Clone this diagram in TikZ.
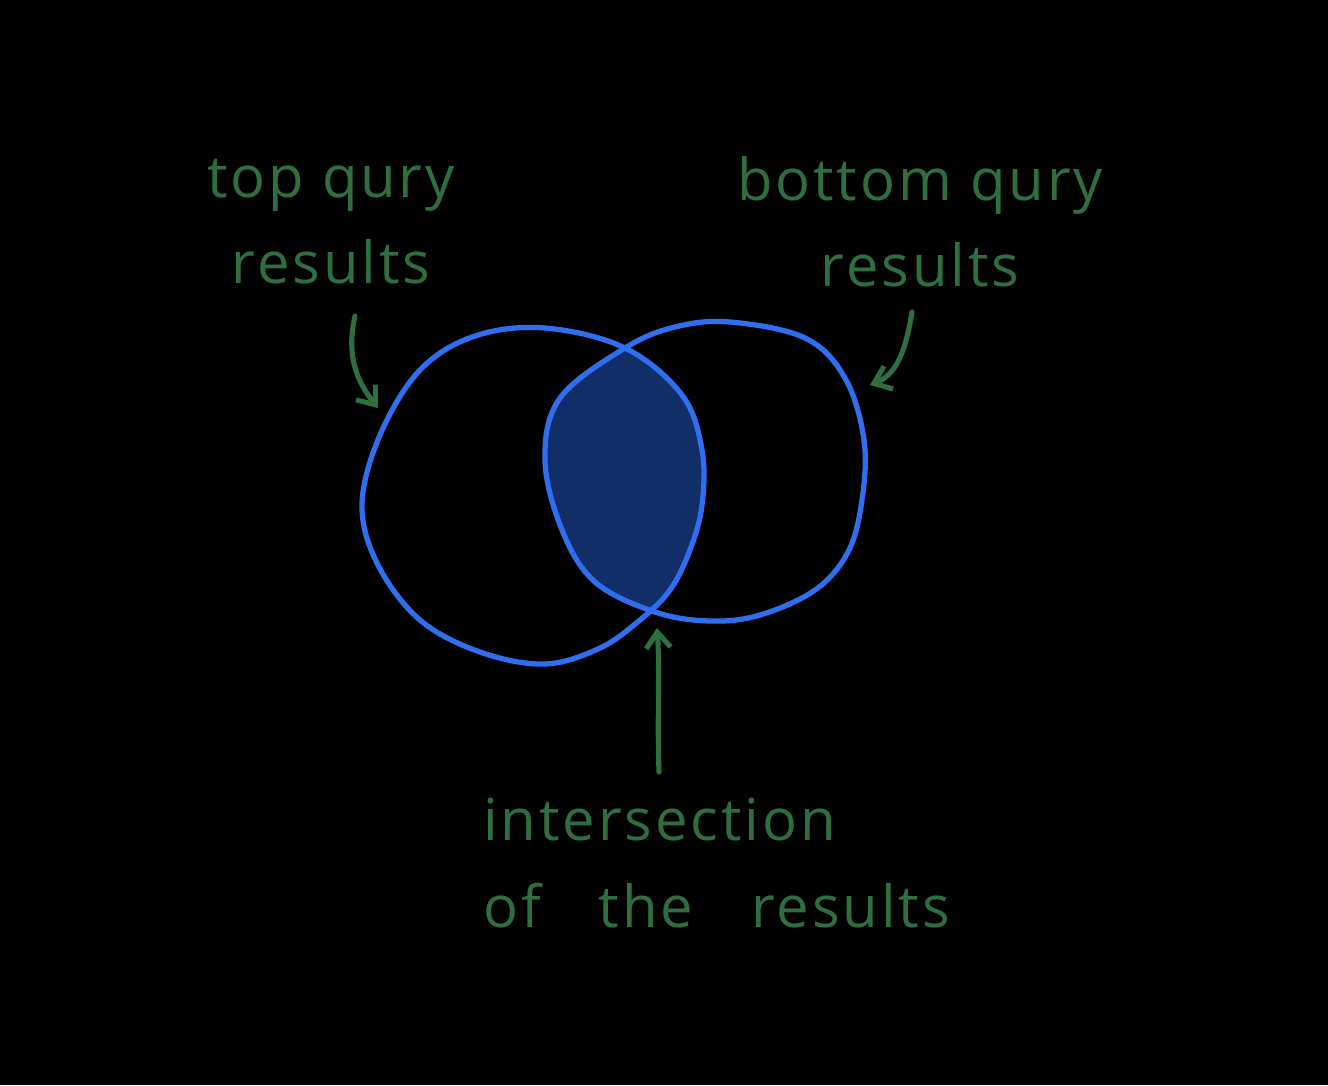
\documentclass[tikz,border=0pt]{standalone}
\usepackage{fontspec}
\setmainfont[LetterSpace=5]{Open Sans}
\usepackage{xcolor}
\usetikzlibrary{arrows.meta}
\definecolor{pen}{RGB}{46,110,64}
\definecolor{ring}{RGB}{48,110,240}
\definecolor{overlap}{RGB}{17,46,104}

\begin{document}
\begin{tikzpicture}[x=0.02cm,y=-0.02cm,>={Straight Barb[length=9pt,width=14pt]}]
\tikzset{label/.style={text=pen,font=\fontsize{33}{49}\selectfont,inner sep=0pt},
         hand/.style={pen,line width=2.9pt,line cap=round},
         loop/.style={ring,line width=3pt,line cap=round}}
\fill[black](0,0)rectangle(1328,1085);
\useasboundingbox(0,0)rectangle(1328,1085);
% the two result sets
\def\lefty{(545,328)(625,348)(682,395)(702,450)(702,505)(690,550)(670,590)(640,620)(600,648)(545,664)(480,652)(420,620)(378,565)(362,505)(380,435)(420,370)(475,336)}
\def\righty{(730,322)(805,338)(845,378)(864,440)(862,500)(848,552)(815,590)(760,615)(710,621)(655,612)(595,582)(562,530)(545,460)(560,398)(625,348)(675,327)}
\begin{scope}
\clip plot[smooth cycle,tension=0.6] coordinates {\lefty};
\fill[overlap] plot[smooth cycle,tension=0.6] coordinates {\righty};
\end{scope}
\draw[loop] plot[smooth cycle,tension=0.6] coordinates {\lefty};
\draw[loop] plot[smooth cycle,tension=0.6] coordinates {\righty};
% labels
\node[label,align=center] (top) at (331,222) {top qury\\results};
\node[label,align=center] (bottom) at (920,222) {bottom qury\\results};
\node[label,align=left,anchor=north west] (inter) at (483,798) {intersection\\of\hspace{1em}the\hspace{1em}results};
\coordinate (lfoot) at (355,316);
\coordinate (rfoot) at (912,312);
\coordinate (bfoot) at (659,772);
\coordinate (ltip) at (378,408);
\coordinate (rtip) at (870,385);
\coordinate (btip) at (657,628);
\draw[hand,->](lfoot)..controls(345,360)and(360,385)..(ltip);
\draw[hand,->](rfoot)..controls(905,355)and(895,375)..(rtip);
\draw[hand,->](bfoot)..controls(657,720)and(660,670)..(btip);
\end{tikzpicture}
\end{document}
